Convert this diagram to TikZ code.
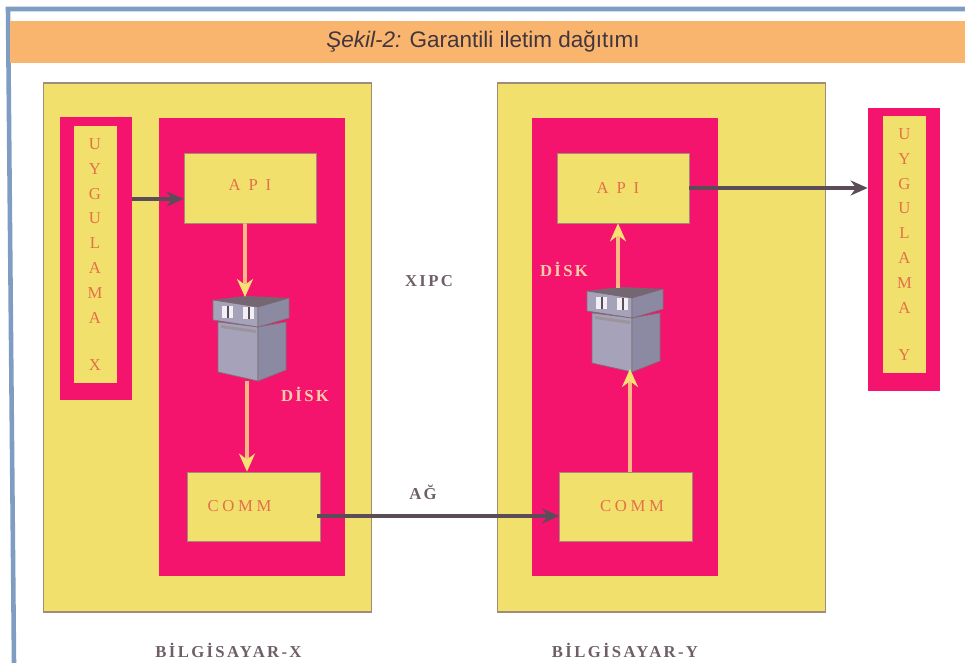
\documentclass[tikz,border=0pt]{standalone}
\usepackage{fontspec}
\usetikzlibrary{arrows.meta}
\setmainfont{Liberation Serif}
\setsansfont{Liberation Sans}
\newfontfamily\spaced[LetterSpace=22]{Liberation Serif}
\newfontfamily\spacedcap[LetterSpace=14]{Liberation Serif}
\definecolor{band}{HTML}{F9B56E}
\definecolor{framecol}{HTML}{7F9DC2}
\definecolor{lemon}{HTML}{F2E06C}
\definecolor{magenta2}{HTML}{F4146E}
\definecolor{edgecol}{HTML}{A08C78}
\definecolor{inkred}{HTML}{E4704A}
\definecolor{inkdark}{HTML}{5C4C58}
\definecolor{inkgrey}{HTML}{6E5E68}
\definecolor{feedline}{HTML}{FBB884}
\definecolor{feedhead}{HTML}{F6E272}
\definecolor{disklight}{HTML}{A5A2BA}
\definecolor{diskdark}{HTML}{8C8AA2}
\tikzset{
  pics/diskunit/.style={code={
    \draw[inkdark!80, line width=0.4pt, fill=disklight] (-0.66,-0.2) -- (-0.66,-1.2) -- (0.14,-1.38) -- (0.14,-0.3) -- cycle;
    \draw[inkdark!80, line width=0.4pt, fill=diskdark] (0.14,-0.3) -- (0.14,-1.38) -- (0.7,-1.16) -- (0.7,-0.2) -- cycle;
    \draw[inkdark!80, line width=0.4pt, fill=disklight] (-0.76,0.24) -- (-0.76,-0.16) -- (0.14,-0.3) -- (0.14,0.1) -- cycle;
    \draw[inkdark!80, line width=0.4pt, fill=diskdark] (0.14,0.1) -- (0.14,-0.3) -- (0.76,-0.12) -- (0.76,0.28) -- cycle;
    \fill[inkdark!85] (-0.76,0.24) -- (0.14,0.1) -- (0.76,0.28) -- (-0.1,0.32) -- cycle;
    \fill[inkdark!60] (-0.6,-0.26) -- (0.1,-0.36) -- (0.1,-0.42) -- (-0.6,-0.32) -- cycle;
    \fill[white!85!disklight] (-0.58,-0.12) rectangle (-0.36,0.12);
    \fill[white!85!disklight] (-0.16,-0.14) rectangle (0.06,0.1);
    \fill[inkdark] (-0.48,-0.12) rectangle (-0.44,0.12);
    \fill[inkdark] (-0.07,-0.14) rectangle (-0.03,0.1);
    \coordinate (-top) at (0,0.3);
    \coordinate (-bot) at (0,-1.38);
  }}
}
\begin{document}
\begin{tikzpicture}[
    >=stealth,
    computer/.style={draw=edgecol, line width=0.7pt, rectangle, fill=lemon, minimum width=6.56cm, minimum height=10.58cm},
    core/.style={rectangle, fill=magenta2, minimum width=3.72cm, minimum height=9.16cm},
    module/.style={draw=edgecol, line width=0.4pt, rectangle, fill=lemon, minimum width=2.64cm, minimum height=1.4cm, font=\fontsize{9.5}{11}\spaced, text=inkred},
    appouter/.style={rectangle, fill=magenta2, minimum width=1.44cm, minimum height=5.66cm},
    appinner/.style={rectangle, fill=lemon, minimum width=0.86cm, minimum height=5.14cm, align=center, inner sep=0pt, font=\fontsize{9.5}{14.2}\selectfont, text=inkred},
    flow/.style={-{Stealth[length=0.34cm, width=0.3cm]}, draw=inkdark, line width=2.2pt},
    feed/.style={-{Stealth[length=0.36cm, width=0.32cm, color=feedhead]}, draw=feedline, line width=2.2pt},
    caption/.style={font=\fontsize{9.5}{11}\spacedcap\bfseries, text=inkgrey},
    disktext/.style={font=\fontsize{9.5}{12}\spacedcap\bfseries, text=feedline!70!white}
]
  \useasboundingbox (0,0) rectangle (19.3,13.26);

  % Frame and title
  \coordinate (framebot) at (0.28,0);
  \coordinate (framecorner) at (0.16,13.08);
  \coordinate (frameend) at (19.3,13.08);
  \draw[framecol, line width=2.6pt] (framebot) -- (framecorner) -- (frameend);
  \node[rectangle, fill=band, minimum width=19.1cm, minimum height=0.84cm, anchor=east] (title) at (19.3,12.42) {};
  \node[font=\fontsize{12.8}{14}\sffamily, text=inkdark!70!black] (titletext) at (9.66,12.42) {\textit{Şekil-2:} Garantili iletim dağıtımı};

  % Computers
  \node[computer] (compx) at (4.15,6.31) {};
  \node[computer] (compy) at (13.235,6.31) {};
  \node[core] (corex) at (5.04,6.32) {};
  \node[core] (corey) at (12.49,6.32) {};

  % Applications
  \node[appouter] (appx) at (1.91,8.08) {};
  \node[appinner] (appxtext) at (1.9,8.17) {U\\Y\\G\\U\\L\\A\\M\\A\\[0.44cm]X};
  \node[appouter] (appy) at (18.08,8.26) {};
  \node[appinner] (appytext) at (18.09,8.37) {U\\Y\\G\\U\\L\\A\\M\\A\\[0.44cm]Y};

  % Modules
  \node[module] (apix) at (5.0,9.5) {\raisebox{0.12cm}{A P I}};
  \node[module] (apiy) at (12.46,9.5) {\hspace*{-0.2cm}A P I};
  \node[module, minimum width=2.66cm, minimum height=1.38cm] (commx) at (5.07,3.13) {\hspace*{-0.56cm}COMM};
  \node[module, minimum width=2.66cm, minimum height=1.38cm] (commy) at (12.52,3.13) {\hspace*{0.24cm}COMM};

  % Disks
  \pic (diskx) at (5.02,7.02) {diskunit};
  \pic (disky) at (12.5,7.2) {diskunit};

  % Connectors
  \draw[flow] ([yshift=-0.22cm]appx.east |- apix.west) -- ([yshift=-0.22cm]apix.west);
  \draw[flow] (apiy.east) -- (apiy.east -| appy.west);
  \draw[flow] ([yshift=-0.19cm, xshift=-0.06cm]commx.east) -- ([yshift=-0.19cm]commy.west);
  \draw[feed] ([xshift=-0.1cm]apix.south) -- ([xshift=-0.12cm]diskx-top);
  \draw[feed] ([xshift=-0.08cm]diskx-bot) -- ([xshift=-0.13cm]commx.north);
  \draw[feed] ([xshift=0.1cm]disky-bot |- commy.north) -- ([xshift=0.1cm, yshift=0.06cm]disky-bot);
  \draw[feed] ([xshift=-0.14cm]disky-top) -- ([xshift=-0.14cm]disky-top |- apiy.south);

  % Labels
  \node[disktext] (diskxlabel) at (6.1,5.38) {DİSK};
  \node[disktext] (diskylabel) at (11.28,7.88) {DİSK};
  \node[caption] (xipc) at (8.58,7.64) {XIPC};
  \node[caption] (ag) at (8.46,3.42) {AĞ};
  \node[caption] (capx) at (4.57,0.26) {BİLGİSAYAR-X};
  \node[caption] (capy) at (12.5,0.26) {BİLGİSAYAR-Y};
\end{tikzpicture}
\end{document}
